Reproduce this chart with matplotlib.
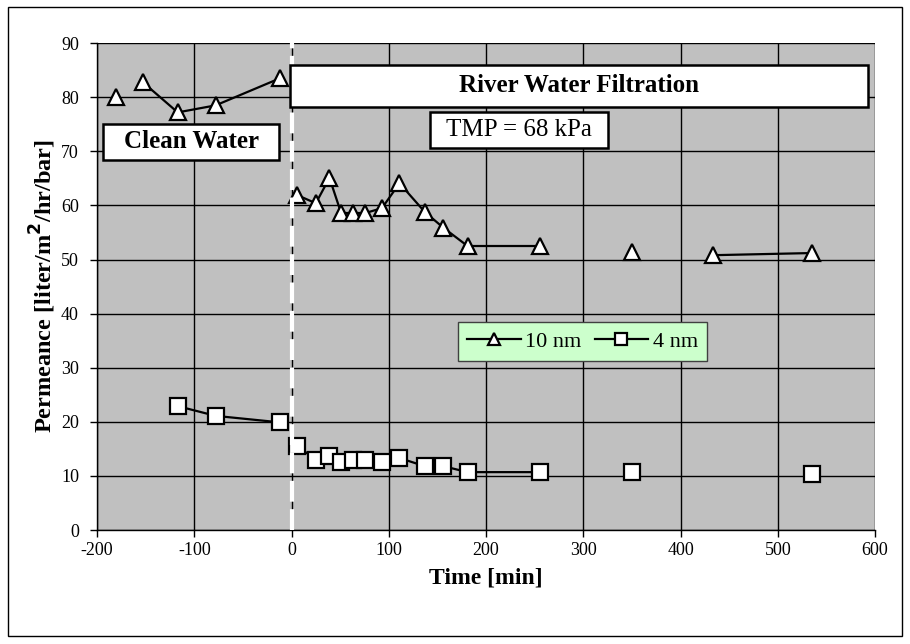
#!/usr/bin/env python3
# -*- coding: utf-8 -*-
"""
Permeance vs time for the 10 nm and 4 nm membranes,
clean water first, then river water filtration.
"""

import numpy as np
import matplotlib.pyplot as plt
from matplotlib.patches import Rectangle

# ---- data (None = gap in the series, like a blank cell) ----
time_10nm = [-180, None, -153, -117, -78, -12, None,
             6, 25, 39, 51, 63, 76, 93, 111, 137, 156, 181, 256, None,
             350, None, 433, 535]
perm_10nm = [80.0, None, 82.8, 77.2, 78.5, 83.5, None,
             61.9, 60.4, 65.1, 58.6, 58.6, 58.6, 59.5, 64.1, 58.8, 55.9, 52.5, 52.5, None,
             51.4, None, 50.8, 51.2]

time_4nm = [-117, -78, -12, None,
            6, 25, 39, 51, 63, 76, 93, 111, 137, 156, 181, 256, None,
            350, None, 535]
perm_4nm = [22.9, 21.1, 19.9, None,
            15.6, 12.9, 13.7, 12.6, 12.9, 12.9, 12.6, 13.3, 11.8, 11.8, 10.7, 10.7, None,
            10.7, None, 10.4]

x_ticks = np.arange(-200, 601, 100)
y_ticks = np.arange(0, 91, 10)


def to_arr(vals):
    return np.array([np.nan if v is None else v for v in vals], dtype=float)


if __name__ == '__main__':
    plt.rcParams['font.family'] = ['Liberation Serif', 'DejaVu Serif']
    plt.rcParams['axes.unicode_minus'] = False

    fig = plt.figure(figsize=(9.1, 6.44), dpi=100)
    ax = fig.add_axes([0.1066, 0.177, 0.855, 0.756])
    ax.set_facecolor('#C0C0C0')

    # outer border of the chart
    fig.patches.append(Rectangle((0.009, 0.012), 0.982, 0.977, transform=fig.transFigure,
                                 fill=False, edgecolor='black', lw=1.0))

    ax.plot(to_arr(time_10nm), to_arr(perm_10nm), '-^', color='black', lw=1.6,
            ms=11, mfc='white', mec='black', mew=1.6, label='10 nm', zorder=3)
    ax.plot(to_arr(time_4nm), to_arr(perm_4nm), '-s', color='black', lw=1.6,
            ms=11, mfc='white', mec='black', mew=1.6, label='4 nm', zorder=3)

    # white dashed line marking the switch to river water
    ax.axvline(0, color='white', lw=3, dashes=(5, 1.8), zorder=4)

    ax.set_xlim(-200, 600)
    ax.set_ylim(0, 90)
    ax.set_xticks(x_ticks)
    ax.set_yticks(y_ticks)
    ax.grid(True, color='black', lw=1.0)
    ax.set_axisbelow(True)
    ax.tick_params(direction='out', length=5, width=1, labelsize=13, colors='black')
    ax.tick_params(axis='y', pad=8)
    for side in ['top', 'right']:
        ax.spines[side].set_visible(False)
    for side in ['left', 'bottom']:
        ax.spines[side].set_linewidth(1.0)

    ax.set_xlabel('Time [min]', fontsize=17, fontweight='bold', labelpad=6)
    ax.set_ylabel('Permeance [liter/m$^\\mathbf{2}$/hr/bar]', fontsize=17.5,
                  fontweight='bold', labelpad=2)

    # text boxes
    def box(x0, y0, x1, y1, txt, weight, size):
        ax.add_patch(Rectangle((x0, y0), x1 - x0, y1 - y0, transform=ax.transAxes,
                               facecolor='white', edgecolor='black', lw=1.8,
                               zorder=5, clip_on=False))
        ax.text((x0 + x1) / 2, (y0 + y1) / 2, txt,
                transform=ax.transAxes, ha='center', va='center',
                fontsize=size, fontweight=weight, zorder=6)

    box(0.008, 0.760, 0.234, 0.834, 'Clean Water', 'bold', 18)
    box(0.248, 0.869, 0.991, 0.955, 'River Water Filtration', 'bold', 18)
    box(0.428, 0.784, 0.657, 0.858, 'TMP = 68 kPa', 'normal', 18)

    leg = ax.legend(loc='center', bbox_to_anchor=(0.624, 0.387), ncol=2,
                    fontsize=16, frameon=True, fancybox=False, framealpha=1,
                    facecolor='#CCFFCC', edgecolor='#404040', handlelength=2.4,
                    handletextpad=0.2, columnspacing=0.6, borderpad=0.4)
    leg.get_frame().set_linewidth(1.0)
    leg.set_zorder(6)
    for h in leg.legend_handles:
        h.set_markersize(8)

    fig.savefig('out.png', dpi=100)
